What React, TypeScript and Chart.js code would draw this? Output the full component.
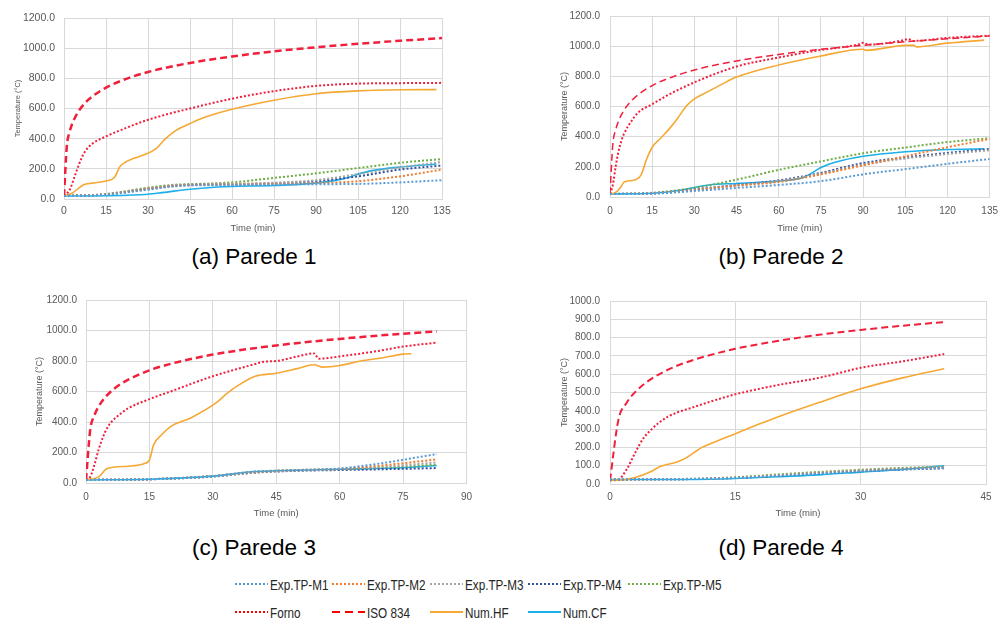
import React, { useEffect, useRef } from "react";
import { Chart, registerables } from "chart.js";
Chart.register(...registerables);

// ---------------- DATA ----------------
// Panel (a) Parede 1
const A_ISO_T = [0, 1, 2, 3, 5, 7.5, 10, 15, 20, 30, 45, 60, 75, 90, 105, 120, 135];
const A_ISO = [20, 349, 444, 502, 576, 636, 678, 739, 781, 842, 902, 945, 979, 1006, 1029, 1049, 1067];
const A_FORNO_T = [0, 2, 4, 6, 7.5, 10, 15, 20, 30, 45, 60, 75, 90, 105, 120, 135];
const A_FORNO = [20, 60, 160, 260, 315, 365, 415, 455, 525, 600, 665, 715, 750, 765, 768, 770];
const A_HF_T = [0, 3, 7, 10, 15, 18, 20, 22, 25, 30, 33, 36, 40, 45, 50, 60, 75, 90, 105, 120, 133];
const A_HF = [20, 40, 95, 105, 120, 142, 215, 245, 270, 303, 335, 395, 455, 500, 540, 595, 655, 698, 717, 724, 725];
const A_CF_T = [0, 15, 30, 35, 45, 55, 75, 90, 100, 105, 110, 120, 133];
const A_CF = [20, 22, 32, 42, 65, 80, 90, 105, 135, 165, 188, 212, 232];
const A_EXP_T = [0, 15, 30, 40, 45, 60, 75, 90, 105, 120, 135];
const A_M1 = [20, 28, 62, 85, 90, 92, 95, 98, 100, 110, 125];
const A_M2 = [20, 30, 66, 88, 92, 95, 100, 105, 118, 150, 195];
const A_M3 = [20, 32, 70, 92, 95, 100, 108, 125, 165, 210, 245];
const A_M4 = [20, 31, 68, 90, 94, 98, 104, 118, 150, 195, 222];
const A_M5 = [20, 33, 75, 95, 98, 110, 140, 170, 205, 240, 265];

// Panel (b) Parede 2
const B_ISO_T = [0, 1, 2, 3, 5, 7.5, 10, 15, 20, 30, 45, 60, 75, 90, 105, 120, 135];
const B_ISO = [20, 349, 444, 502, 576, 636, 678, 739, 781, 842, 902, 945, 979, 1006, 1029, 1049, 1067];
const B_FORNO_T = [0, 1, 2, 3, 4, 5, 7.5, 10, 15, 20, 30, 45, 60, 75, 88, 90, 92, 104, 106, 108, 120, 135];
const B_FORNO = [20, 80, 200, 300, 370, 420, 500, 560, 615, 670, 760, 865, 925, 975, 1010, 1022, 1010, 1038, 1047, 1035, 1055, 1070];
const B_HF_T = [0, 2, 4, 5, 8, 11, 13, 15, 18, 21, 24, 27, 30, 35, 40, 45, 60, 75, 90, 91, 105, 108, 109, 120, 133];
const B_HF = [20, 30, 70, 100, 110, 145, 250, 330, 390, 450, 520, 600, 650, 700, 750, 795, 875, 935, 980, 972, 1005, 1005, 995, 1020, 1040];
const B_CF_T = [0, 15, 25, 35, 45, 60, 68, 70, 75, 80, 90, 105, 120, 133];
const B_CF = [20, 25, 45, 80, 90, 105, 125, 140, 195, 230, 270, 300, 315, 320];
const B_EXP_T = [0, 15, 30, 45, 60, 75, 90, 105, 120, 135];
const B_M1 = [20, 22, 40, 60, 80, 105, 150, 185, 220, 252];
const B_M2 = [20, 24, 45, 75, 100, 150, 210, 270, 330, 385];
const B_M3 = [20, 24, 48, 78, 105, 155, 215, 255, 285, 310];
const B_M4 = [20, 25, 50, 80, 110, 160, 225, 262, 292, 318];
const B_M5 = [20, 28, 60, 115, 180, 236, 290, 328, 364, 390];

// Panel (c) Parede 3
const C_ISO_T = [0, 1, 2, 3, 5, 7.5, 10, 15, 20, 30, 45, 60, 75, 83];
const C_ISO = [20, 349, 444, 502, 576, 636, 678, 739, 781, 842, 902, 945, 979, 994];
const C_FORNO_T = [0, 1, 2, 3, 4, 5, 6, 8, 10, 15, 20, 30, 40, 42, 45, 50, 54, 55, 60, 70, 75, 83];
const C_FORNO = [20, 40, 120, 220, 300, 360, 400, 450, 490, 550, 600, 700, 780, 795, 800, 830, 850, 815, 830, 870, 895, 920];
const C_HF_T = [0, 3, 5, 10, 14, 15, 16, 18, 20, 25, 31, 33, 36, 40, 45, 50, 54, 56, 60, 65, 70, 75, 77];
const C_HF = [20, 40, 95, 110, 130, 150, 250, 320, 370, 430, 530, 580, 640, 700, 720, 750, 775, 760, 770, 800, 820, 845, 848];
const C_CF_T = [0, 15, 30, 40, 45, 60, 75, 83];
const C_CF = [20, 25, 45, 75, 80, 90, 100, 115];
const C_EXP_T = [0, 15, 30, 40, 50, 60, 70, 83];
const C_M1 = [20, 25, 45, 75, 85, 95, 130, 190];
const C_M2 = [20, 25, 45, 72, 85, 92, 115, 155];
const C_M3 = [20, 25, 44, 70, 82, 90, 105, 135];
const C_M4 = [20, 24, 42, 68, 80, 85, 90, 98];
const C_M5 = [20, 25, 46, 73, 84, 90, 100, 120];

// Panel (d) Parede 4
const D_ISO_T = [0, 1, 2, 3, 5, 7.5, 10, 15, 20, 25, 30, 35, 40];
const D_ISO = [20, 349, 444, 502, 576, 636, 678, 739, 781, 815, 842, 865, 885];
const D_FORNO_T = [0, 1, 2, 3, 4, 5, 6, 7, 8, 10, 12, 15, 20, 25, 30, 35, 40];
const D_FORNO = [20, 25, 80, 170, 250, 300, 340, 370, 390, 420, 450, 490, 540, 580, 635, 670, 710];
const D_HF_T = [0, 2, 3, 5, 6, 8, 9, 10, 11, 12, 15, 18, 20, 25, 30, 35, 40];
const D_HF = [20, 25, 35, 70, 95, 120, 140, 170, 200, 220, 275, 330, 365, 445, 520, 580, 630];
const D_CF_T = [0, 10, 15, 20, 25, 30, 35, 40];
const D_CF = [25, 25, 30, 40, 50, 65, 80, 100];
const D_EXP_T = [0, 10, 15, 20, 25, 30, 35, 40];
const D_M1 = [25, 27, 33, 45, 58, 70, 80, 88];
const D_M2 = [25, 27, 34, 46, 60, 72, 82, 90];
const D_M3 = [25, 28, 35, 48, 62, 74, 84, 92];
const D_M4 = [25, 27, 33, 45, 58, 70, 79, 86];
const D_M5 = [25, 29, 37, 52, 66, 78, 88, 95];

const SERIES_NAMES = ["Exp.TP-M1", "Exp.TP-M2", "Exp.TP-M3", "Exp.TP-M4", "Exp.TP-M5", "Forno", "ISO 834", "Num.HF", "Num.CF"];
const CAPTIONS = ["(a) Parede 1", "(b) Parede 2", "(c) Parede 3", "(d) Parede 4"];
const X_TITLE = "Time (min)";
const Y_TITLE = "Temperature (°C)";

// ---------------- STYLE ----------------
const FONT = "'Liberation Sans', Arial, sans-serif";
const STYLE: Record<string, { color: string; dash: number[]; width: number }> = {
  "Exp.TP-M1": { color: "#5B9BD5", dash: [2, 2], width: 2 },
  "Exp.TP-M2": { color: "#ED7D31", dash: [2, 2], width: 2 },
  "Exp.TP-M3": { color: "#A5A5A5", dash: [2, 2], width: 2 },
  "Exp.TP-M4": { color: "#34529E", dash: [2, 2], width: 2 },
  "Exp.TP-M5": { color: "#70AD47", dash: [2, 2], width: 2 },
  Forno: { color: "#F0203C", dash: [2, 2], width: 2 },
  "ISO 834": { color: "#F0203C", dash: [7, 4], width: 2 },
  "Num.HF": { color: "#F5A833", dash: [], width: 1.6 },
  "Num.CF": { color: "#1BB0EA", dash: [], width: 1.6 },
};

type PanelCfg = {
  left: number; top: number; w: number; h: number;
  yW: number; padTop: number; padRight: number; xH: number;
  xMax: number; yMax: number; yStep: number;
  tickFont: number; xTitleFont: number; yTitleFont: number; xTickPad: number; yTickPad: number;
  xTitlePad: number; yTitlePad: number; isoWidth: number;
  series: [string, number[], number[]][];
};

const PANELS: PanelCfg[] = [
  {
    left: 0, top: 0, w: 470, h: 240, yW: 64, padTop: 18, padRight: 28, xH: 41,
    xMax: 135, yMax: 1200, yStep: 200, tickFont: 10.5, xTitleFont: 9.5, yTitleFont: 7.5, xTickPad: 6, yTickPad: 9,
    xTitlePad: 6, yTitlePad: 13, isoWidth: 2.5,
    series: [
      ["Exp.TP-M1", A_EXP_T, A_M1], ["Exp.TP-M2", A_EXP_T, A_M2], ["Exp.TP-M3", A_EXP_T, A_M3],
      ["Exp.TP-M4", A_EXP_T, A_M4], ["Exp.TP-M5", A_EXP_T, A_M5], ["Forno", A_FORNO_T, A_FORNO],
      ["ISO 834", A_ISO_T, A_ISO], ["Num.HF", A_HF_T, A_HF], ["Num.CF", A_CF_T, A_CF],
    ],
  },
  {
    left: 540, top: 0, w: 466, h: 240, yW: 70, padTop: 10, padRight: 9, xH: 43,
    xMax: 135, yMax: 1200, yStep: 200, tickFont: 10, xTitleFont: 9.5, yTitleFont: 9, xTickPad: 8, yTickPad: 10,
    xTitlePad: 6, yTitlePad: 19, isoWidth: 1.5,
    series: [
      ["Exp.TP-M1", B_EXP_T, B_M1], ["Exp.TP-M2", B_EXP_T, B_M2], ["Exp.TP-M3", B_EXP_T, B_M3],
      ["Exp.TP-M4", B_EXP_T, B_M4], ["Exp.TP-M5", B_EXP_T, B_M5], ["Forno", B_FORNO_T, B_FORNO],
      ["ISO 834", B_ISO_T, B_ISO], ["Num.HF", B_HF_T, B_HF], ["Num.CF", B_CF_T, B_CF],
    ],
  },
  {
    left: 0, top: 285, w: 480, h: 240, yW: 86, padTop: 13, padRight: 12, xH: 42,
    xMax: 90, yMax: 1200, yStep: 200, tickFont: 10, xTitleFont: 9.5, yTitleFont: 9, xTickPad: 8, yTickPad: 9,
    xTitlePad: 6, yTitlePad: 34, isoWidth: 2.5,
    series: [
      ["Exp.TP-M1", C_EXP_T, C_M1], ["Exp.TP-M2", C_EXP_T, C_M2], ["Exp.TP-M3", C_EXP_T, C_M3],
      ["Exp.TP-M4", C_EXP_T, C_M4], ["Exp.TP-M5", C_EXP_T, C_M5], ["Forno", C_FORNO_T, C_FORNO],
      ["ISO 834", C_ISO_T, C_ISO], ["Num.HF", C_HF_T, C_HF], ["Num.CF", C_CF_T, C_CF],
    ],
  },
  {
    left: 540, top: 285, w: 466, h: 240, yW: 70, padTop: 10, padRight: 20, xH: 41,
    xMax: 45, yMax: 1000, yStep: 100, tickFont: 10, xTitleFont: 9.5, yTitleFont: 9, xTickPad: 7, yTickPad: 10,
    xTitlePad: 6, yTitlePad: 19, isoWidth: 2,
    series: [
      ["Exp.TP-M1", D_EXP_T, D_M1], ["Exp.TP-M2", D_EXP_T, D_M2], ["Exp.TP-M3", D_EXP_T, D_M3],
      ["Exp.TP-M4", D_EXP_T, D_M4], ["Exp.TP-M5", D_EXP_T, D_M5], ["Forno", D_FORNO_T, D_FORNO],
      ["ISO 834", D_ISO_T, D_ISO], ["Num.HF", D_HF_T, D_HF], ["Num.CF", D_CF_T, D_CF],
    ],
  },
];

const CAPTION_POS = [
  { x: 254, y: 257 },
  { x: 781, y: 257 },
  { x: 254, y: 548 },
  { x: 781, y: 548 },
];

const LEGEND_POS = [
  { x: 235, y: 584 }, { x: 332, y: 584 }, { x: 430, y: 584 }, { x: 528, y: 584 }, { x: 628, y: 584 },
  { x: 235, y: 612 }, { x: 332, y: 612 }, { x: 430, y: 612 }, { x: 528, y: 612 },
];

function Panel({ cfg }: { cfg: PanelCfg }) {
  const ref = useRef<HTMLCanvasElement>(null);
  useEffect(() => {
    const tickColor = "#595959";
    const gridColor = "#D9D9D9";
    const datasets = cfg.series.map(([name, t, v]) => {
      const st = STYLE[name];
      return {
        label: name,
        data: v.map((y, i) => ({ x: t[i], y })),
        borderColor: st.color,
        backgroundColor: st.color,
        borderDash: st.dash,
        borderWidth: name === "ISO 834" ? cfg.isoWidth : st.width,
        pointRadius: 0,
        fill: false,
        cubicInterpolationMode: "monotone" as const,
      };
    });
    const chart = new Chart(ref.current!, {
      type: "line",
      data: { datasets },
      options: {
        animation: false,
        responsive: false,
        maintainAspectRatio: false,
        layout: { padding: { top: cfg.padTop, right: cfg.padRight, left: 0, bottom: 0 } },
        plugins: { legend: { display: false }, tooltip: { enabled: false } },
        scales: {
          x: {
            type: "linear",
            min: 0,
            max: cfg.xMax,
            ticks: {
              stepSize: 15, autoSkip: false, maxRotation: 0, color: tickColor,
              padding: cfg.xTickPad, font: { family: FONT, size: cfg.tickFont },
            },
            grid: { color: gridColor, drawTicks: false },
            border: { color: gridColor },
            title: {
              display: true, text: X_TITLE, color: tickColor,
              font: { family: FONT, size: cfg.xTitleFont },
              padding: { top: 0, bottom: cfg.xTitlePad },
            },
            afterFit: (s: any) => { s.height = cfg.xH; },
          },
          y: {
            type: "linear",
            min: 0,
            max: cfg.yMax,
            ticks: {
              stepSize: cfg.yStep, color: tickColor, padding: cfg.yTickPad,
              font: { family: FONT, size: cfg.tickFont },
              callback: (v: any) => Number(v).toFixed(1),
            },
            grid: { color: gridColor, drawTicks: false },
            border: { color: gridColor },
            title: {
              display: true, text: Y_TITLE, color: tickColor,
              font: { family: FONT, size: cfg.yTitleFont },
              padding: { top: cfg.yTitlePad, bottom: 0 },
            },
            afterFit: (s: any) => { s.width = cfg.yW; },
          },
        },
      } as any,
    });
    return () => chart.destroy();
  }, [cfg]);
  return (
    <canvas
      ref={ref}
      width={cfg.w}
      height={cfg.h}
      style={{ position: "absolute", left: cfg.left, top: cfg.top, width: cfg.w, height: cfg.h }}
    />
  );
}

function LegendItem({ name, x, y }: { name: string; x: number; y: number }) {
  const st = STYLE[name];
  return (
    <div style={{ position: "absolute", left: x, top: y - 10, height: 20, display: "flex", alignItems: "center" }}>
      <svg width={33} height={6} style={{ display: "block" }}>
        <line
          x1={0} y1={3} x2={33} y2={3}
          stroke={name === "Forno" || name === "ISO 834" ? "#FF0000" : st.color}
          strokeWidth={2}
          strokeDasharray={name === "ISO 834" ? "8 5" : st.dash.length ? "2 2" : undefined}
        />
      </svg>
      <span
        style={{
          display: "inline-block", marginLeft: 2, fontFamily: FONT, fontSize: 15, color: "#262626",
          whiteSpace: "nowrap", transform: "scaleX(0.78)", transformOrigin: "left center",
        }}
      >
        {name}
      </span>
    </div>
  );
}

export default function App() {
  return (
    <div style={{ position: "fixed", left: 0, top: 0, width: 1006, height: 627, background: "#fff", overflow: "hidden" }}>
      {PANELS.map((p, i) => (
        <Panel key={i} cfg={p} />
      ))}
      {CAPTIONS.map((c, i) => (
        <div
          key={c}
          style={{
            position: "absolute", left: CAPTION_POS[i].x, top: CAPTION_POS[i].y,
            transform: "translate(-50%, -50%)", fontFamily: FONT,
            fontSize: 22.5, color: "#000", whiteSpace: "nowrap",
          }}
        >
          {c}
        </div>
      ))}
      {SERIES_NAMES.map((n, i) => (
        <LegendItem key={n} name={n} x={LEGEND_POS[i].x} y={LEGEND_POS[i].y} />
      ))}
    </div>
  );
}
